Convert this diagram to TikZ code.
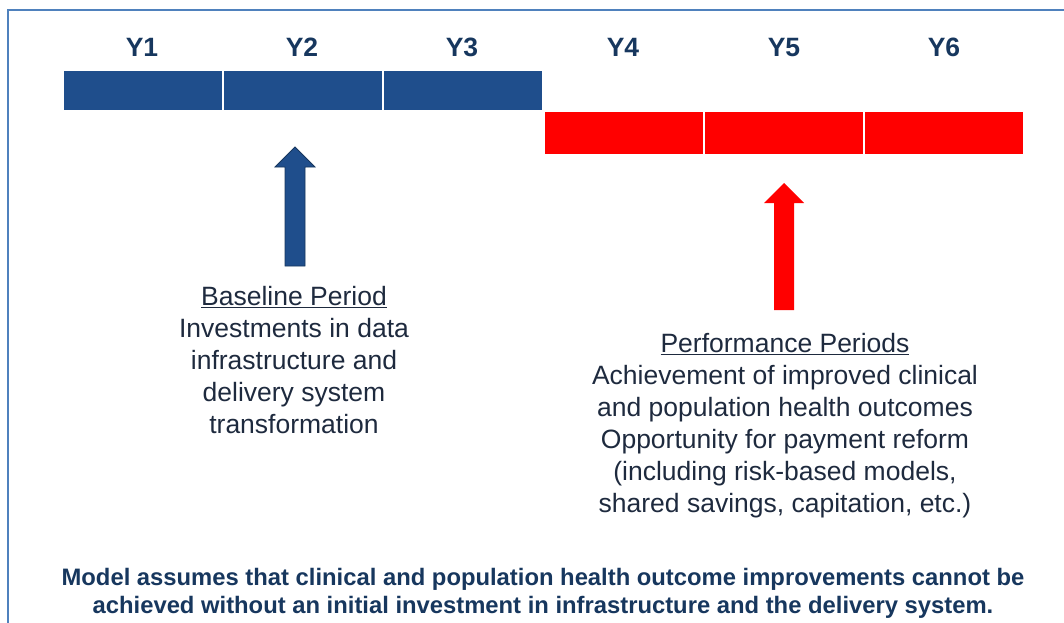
\documentclass[tikz,border=0pt]{standalone}
\usepackage{fontspec}
\setmainfont{Liberation Sans}
\definecolor{barblue}{HTML}{1F4E8C}
\definecolor{barred}{HTML}{FF0000}
\definecolor{navytext}{HTML}{17375E}
\definecolor{bodynavy}{HTML}{1E2A3E}
\definecolor{frameblue}{HTML}{4F81BD}

\begin{document}
\begin{tikzpicture}[x=1pt, y=-1pt,
  every node/.style={align=center, inner sep=0pt},
  yearlabel/.style={font=\fontsize{26.5}{30}\selectfont\bfseries, text=navytext, anchor=base},
  bluebar/.style={rectangle, fill=barblue, minimum width=158pt, minimum height=39pt},
  redbar/.style={rectangle, fill=barred, minimum width=158pt, minimum height=42pt},
  bodytext/.style={font=\fontsize{26.5}{32}\selectfont, text=bodynavy, anchor=north}]
  \useasboundingbox (0,0) rectangle (1064,622);

  % --- Frame (top and left edge only) ---
  \draw[frameblue, line width=2pt] (8,640) -- (8,10) -- (1080,10);

  % --- Year labels ---
  \node[yearlabel] (Y1) at (142,56) {Y1};
  \node[yearlabel] (Y2) at (302,56) {Y2};
  \node[yearlabel] (Y3) at (462,56) {Y3};
  \node[yearlabel] (Y4) at (623,56) {Y4};
  \node[yearlabel] (Y5) at (784,56) {Y5};
  \node[yearlabel] (Y6) at (944,56) {Y6};

  % --- Baseline years (blue) ---
  \node[bluebar] (B1) at (143,90.5) {};
  \node[bluebar] (B2) at (303,90.5) {};
  \node[bluebar] (B3) at (463,90.5) {};

  % --- Performance years (red), one step lower ---
  \node[redbar] (P4) at (624,133) {};
  \node[redbar] (P5) at (784,133) {};
  \node[redbar] (P6) at (944,133) {};

  % --- Block arrows pointing up at the bars ---
  \filldraw[fill=barblue, draw=navytext, line width=0.8pt]
    (285,266) -- (285,167) -- (275,167) -- (295,147) -- (315,167) -- (305,167) -- (305,266) -- cycle;
  \fill[barred]
    (774,310) -- (774,203) -- (764,203) -- (784,183) -- (804,203) -- (794,203) -- (794,310) -- cycle;

  % --- Period descriptions ---
  \node[bodytext] (base) at (294,286) {\underline{Baseline Period}\\Investments in data\\infrastructure and\\delivery system\\transformation};
  \node[bodytext] (perf) at (785,333) {\underline{Performance Periods}\\Achievement of improved clinical\\and population health outcomes\\Opportunity for payment reform\\(including risk-based models,\\shared savings, capitation, etc.)};

  % --- Footnote ---
  \node[font=\fontsize{23.8}{28}\selectfont\bfseries, text=navytext, anchor=north] (note) at (543,568)
    {Model assumes that clinical and population health outcome improvements cannot be\\achieved without an initial investment in infrastructure and the delivery system.};
\end{tikzpicture}
\end{document}
